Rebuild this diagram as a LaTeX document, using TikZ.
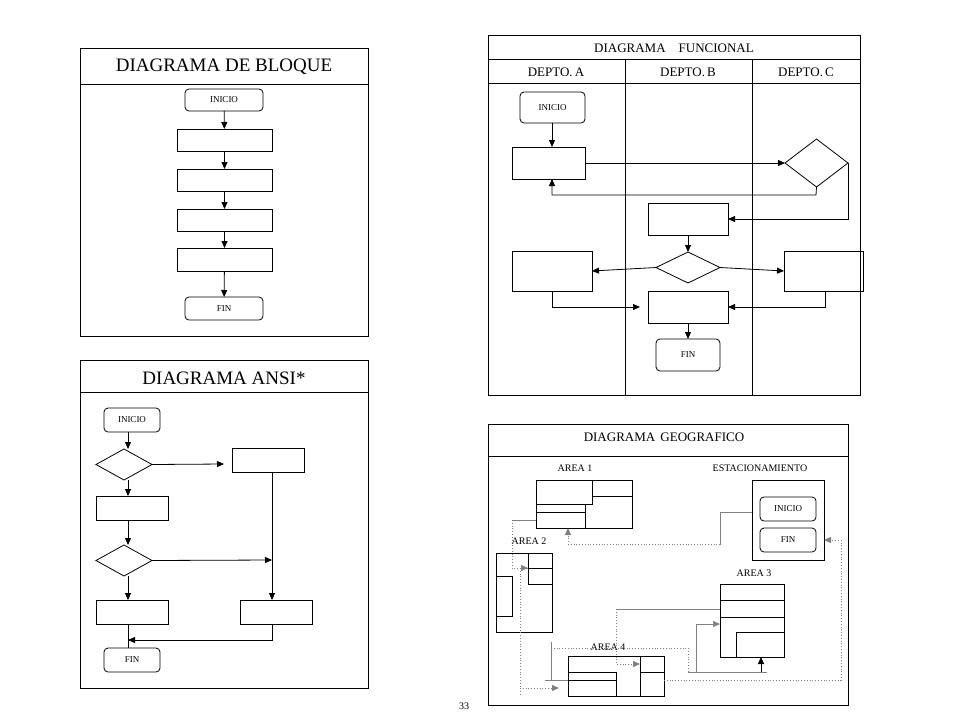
\documentclass[tikz,border=0pt]{standalone}
\usepackage{fontspec}
\setmainfont{Liberation Serif}
\usetikzlibrary{shapes.geometric,arrows.meta}
\newcommand\R[7]{\node[#6, minimum width={#4pt-#2pt}, minimum height={#5pt-#3pt}] (#1) at ({(#2+#4)/2},{(#3+#5)/2}) {#7};}
\begin{document}
\begin{tikzpicture}[x=1pt,y=-1pt,line width=0.8pt,
 box/.style={draw,inner sep=0pt,outer sep=0pt},
 rbox/.style={box,rounded corners=4pt,font=\fontsize{9}{9}\selectfont},
 dia/.style={draw,diamond,inner sep=0pt,outer sep=0pt},
 frame/.style={draw,inner sep=0pt,outer sep=0pt},
 arr/.style={-{Triangle[length=7pt,width=6pt]}},
 g/.style={gray,line width=0.6pt},
 gd/.style={gray,line width=0.8pt,dotted},
 ttl/.style={font=\fontsize{19}{19}\selectfont},
 sml/.style={font=\fontsize{13}{13}\selectfont},
 lbl/.style={font=\fontsize{10}{10}\selectfont}]
\useasboundingbox (0,0) rectangle (960,720);
% ---------- DIAGRAMA DE BLOQUE
\R{bf}{80}{48}{368}{336}{frame}{}
\draw (80,84) -- (368,84);
\node[ttl] (bt) at (224,67) {DIAGRAMA DE BLOQUE};
\R{b0}{185}{89}{263}{111}{rbox}{INICIO}
\R{b1}{177}{129}{272}{151}{box}{}
\R{b2}{177}{169}{272}{191}{box}{}
\R{b3}{177}{209}{272}{231}{box}{}
\R{b4}{177}{248}{272}{271}{box}{}
\R{b5}{185}{297}{263}{320}{rbox}{FIN}
\foreach \a/\b in {b0/b1,b1/b2,b2/b3,b3/b4,b4/b5} \draw[arr] (\a) -- (\b);
% ---------- DIAGRAMA ANSI
\R{af}{80}{360}{368}{688}{frame}{}
\draw (80,392) -- (368,392);
\node[ttl] (at) at (224,378) {DIAGRAMA ANSI*};
\R{a0}{104}{408}{160}{432}{rbox}{INICIO}
\R{ad1}{96}{449}{152}{480}{dia}{}
\R{ar1}{232}{448}{304}{472}{box}{}
\R{a2}{96}{496}{168}{520}{box}{}
\R{ad2}{96}{545}{152}{576}{dia}{}
\R{a3}{96}{600}{168}{624}{box}{}
\R{a4}{240}{600}{312}{624}{box}{}
\R{a5}{104}{648}{160}{672}{rbox}{FIN}
\coordinate (ap1) at (224,464);
\coordinate (ap2) at (272,560);
\coordinate (ap3) at (128,640);
\draw[arr] (a0.south -| 128,0) -- (ad1.north -| 128,0);
\draw[arr] (ad1.south -| 128,0) -- (a2.north -| 128,0);
\draw[arr] (a2.south -| 128,0) -- (ad2.north -| 128,0);
\draw[arr] (ad2.south -| 128,0) -- (a3.north -| 128,0);
\draw[arr] (ad1.east) -- (ap1);
\draw[arr] (ad2.east) -- (ap2);
\draw[arr] (ar1.south -| 272,0) -- (a4.north -| 272,0);
\draw[arr] (a4.south -| 272,0) |- (ap3);
\draw (a3.south -| 128,0) -- (a5.north -| 128,0);
% ---------- DIAGRAMA FUNCIONAL
\R{ff}{488}{35}{860}{395}{frame}{}
\draw (488,59) -- (860,59) (488,83) -- (860,83) (625,59) -- (625,395) (752,59) -- (752,395);
\node[sml] (ft) at (674,48) {DIAGRAMA\hspace{1em}FUNCIONAL};
\node[sml] (fa) at (556,72) {DEPTO.\,A};
\node[sml] (fb) at (688,72) {DEPTO.\,B};
\node[sml] (fc) at (806,72) {DEPTO.\,C};
\R{f0}{520}{92}{585}{123}{rbox}{INICIO}
\R{fa1}{512}{147}{585}{179}{box}{}
\R{fdc}{785}{139}{848}{187}{dia}{}
\R{fb1}{648}{203}{728}{235}{box}{}
\R{fdb}{656}{252}{720}{283}{dia}{}
\R{fa2}{512}{251}{592}{291}{box}{}
\R{fc2}{784}{251}{863}{291}{box}{}
\R{fb2}{648}{291}{728}{323}{box}{}
\R{fb3}{656}{339}{720}{371}{rbox}{FIN}
\coordinate (fp1) at (640,307);
\draw[arr] (f0.south -| 552,0) -- (fa1.north -| 552,0);
\draw[arr] (fa1.east) -- (fdc.west);
\draw[arr] (fdc.south) -- (816,195) -| (fa1.south -| 552,0);
\draw[arr] (fdc.east) |- (fb1.east);
\draw[arr] (fb1) -- (fdb);
\draw[arr] (fdb.west) -- (fa2.east);
\draw[arr] (fdb.east) -- (fc2.west);
\draw[arr] (fa2.south -| 552,0) |- (fp1);
\draw[arr] (fc2.south -| 825,0) |- (fb2.east);
\draw[arr] (fb2) -- (fb3);
% ---------- DIAGRAMA GEOGRAFICO
\R{gf}{488}{424}{848}{705}{frame}{}
\draw (488,456) -- (848,456);
\node[sml] (gt) at (664,437) {DIAGRAMA\hspace{0.4em}GEOGRAFICO};
\node[lbl] (l1) at (575,468) {AREA 1};
\node[lbl] (le) at (760,468) {ESTACIONAMIENTO};
\node[lbl] (l2) at (529,541) {AREA 2};
\node[lbl] (l3) at (754,573) {AREA 3};
\node[lbl] (l4) at (608,647) {AREA 4};
% area 1
\R{g1}{536}{480}{632}{528}{box}{}
\draw (592,480) -- (592,504) -- (536,504) (536,512) -- (585,512) (585,504) -- (585,528) (592,496) -- (632,496);
% estacionamiento
\R{ge}{752}{480}{824}{560}{box}{}
\R{gi}{760}{497}{816}{521}{rbox}{INICIO}
\R{gn}{760}{528}{816}{552}{rbox}{FIN}
% area 2
\R{g2}{496}{553}{552}{632}{box}{}
\draw (528,553) -- (528,584) -- (552,584) (528,568) -- (552,568) (496,576) -- (512,576) -- (512,616) -- (496,616);
% area 3
\R{g3}{720}{584}{784}{657}{box}{}
\draw (720,600) -- (784,600) (720,617) -- (784,617) (736,657) -- (736,632) -- (784,632);
% area 4
\R{g4}{568}{656}{664}{696}{box}{}
\draw (568,672) -- (616,672) (568,680) -- (616,680) (616,672) -- (616,696) (640,656) -- (640,696) (640,672) -- (664,672);
% connectors
\coordinate (c1) at (720,512);
\coordinate (c2) at (528,568);
\coordinate (c3) at (559,688);
\coordinate (c4) at (640,664);
\coordinate (c5) at (720,624);
\draw[g] (ge.west |- c1) -- (c1) (720,512) -- (720,545);
\draw[gd,arr] (720,544) -| (g1.south -| 568,0);
\draw[g] (536,520) -- (512,520);
\draw[gd,arr] (512,520) |- (c2);
\draw[g] (520,568) -- (528,568);
\draw[gd] (520,568) -- (520,695);
\draw[gd,arr] (520,688) -- (c3);
\draw[g] (551,642) -- (551,680) (545,680) -- (568,680);
\draw[gd,arr] (g4.east |- 0,680) -- (841,680) |- (ge.east |- gn);
\draw[gd] (551,648) -- (688,648) -- (688,672);
\draw[g] (688,672) -- (767,672);
\draw[arr] (761,672) -- (g3.south -| 761,0);
\draw[g] (761,672) -- (696,672);
\draw[g,arr] (696,672) |- (c5);
\draw[g] (g3.west |- 0,609) -- (616,609);
\draw[gd,arr] (616,609) |- (c4);
% page number
\node[lbl] (pg) at (464,706) {33};
\end{tikzpicture}
\end{document}
